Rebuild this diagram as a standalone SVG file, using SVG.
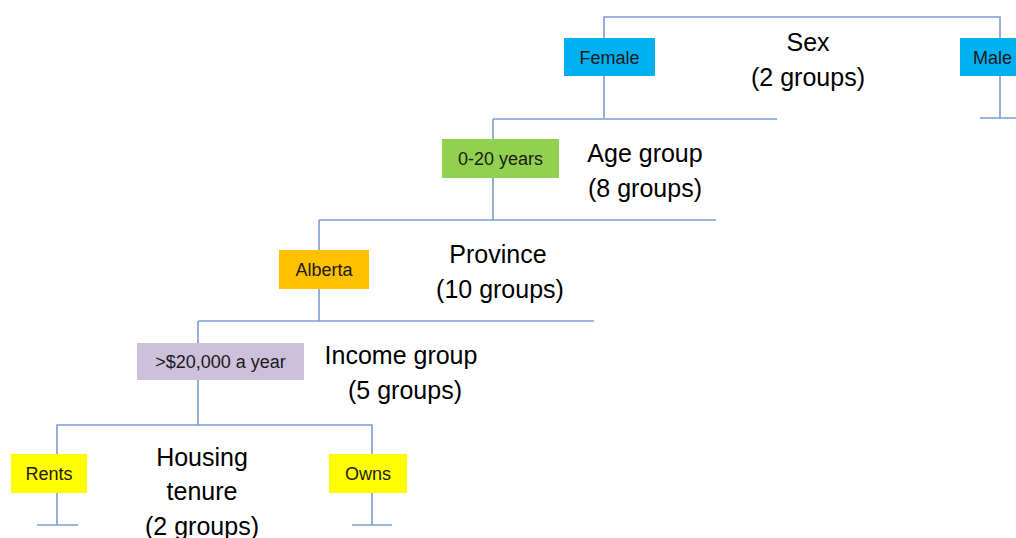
<svg xmlns="http://www.w3.org/2000/svg" width="1016" height="538" viewBox="0 0 1016 538">
<style>
.ln{fill:none;stroke:#7A9CCF;stroke-width:1.6}
.lbl{font-family:"Liberation Sans",Arial,sans-serif;font-size:18px;fill:#1a1a1a;text-anchor:middle}
.cat{font-family:"Liberation Sans",Arial,sans-serif;font-size:25px;fill:#000;text-anchor:middle}
</style>
<rect width="1016" height="538" fill="#fff"/>
<g id="connectors">
<path class="ln" d="M604,118 V17 H1000 V118"/>
<path class="ln" d="M493,119 H777"/>
<path class="ln" d="M980,118 H1016"/>
<path class="ln" d="M493,119 V220"/>
<path class="ln" d="M319,220 H716"/>
<path class="ln" d="M319,220 V321"/>
<path class="ln" d="M198,321 H594"/>
<path class="ln" d="M198,321 V425"/>
<path class="ln" d="M57,525 V425 H372 V525"/>
<path class="ln" d="M37,525 H78"/>
<path class="ln" d="M352,525 H392"/>
</g>
<g id="sex">
<text class="cat" x="808" y="51">Sex</text>
<text class="cat" x="808" y="86">(2 groups)</text>
</g>
<g id="female">
<rect x="564" y="38" width="91" height="38" fill="#00B0F0"/>
<text class="lbl" x="609.5" y="63.5">Female</text>
</g>
<g id="male">
<rect x="960" y="38" width="60" height="38" fill="#00B0F0"/>
<text class="lbl" x="973" y="63.5" style="text-anchor:start">Male</text>
</g>
<g id="age">
<text class="cat" x="645" y="162">Age group</text>
<text class="cat" x="645" y="197">(8 groups)</text>
</g>
<g id="age0-20">
<rect x="442" y="139" width="117" height="39" fill="#92D050"/>
<text class="lbl" x="500.5" y="165">0-20 years</text>
</g>
<g id="province">
<text class="cat" x="498" y="263">Province</text>
<text class="cat" x="500" y="298">(10 groups)</text>
</g>
<g id="alberta">
<rect x="279" y="250" width="90" height="39" fill="#FFC000"/>
<text class="lbl" x="324" y="276">Alberta</text>
</g>
<g id="income">
<text class="cat" x="401" y="364">Income group</text>
<text class="cat" x="405" y="399">(5 groups)</text>
</g>
<g id="income20k">
<rect x="137" y="343" width="167" height="37" fill="#CCC0DA"/>
<text class="lbl" x="220.5" y="368">&gt;$20,000 a year</text>
</g>
<g id="housing">
<text class="cat" x="202" y="466">Housing</text>
<text class="cat" x="202" y="500">tenure</text>
<text class="cat" x="202" y="535">(2 groups)</text>
</g>
<g id="rents">
<rect x="11" y="454" width="76" height="39" fill="#FFFF00"/>
<text class="lbl" x="49" y="480">Rents</text>
</g>
<g id="owns">
<rect x="329" y="454" width="78" height="39" fill="#FFFF00"/>
<text class="lbl" x="368" y="480">Owns</text>
</g>
</svg>
